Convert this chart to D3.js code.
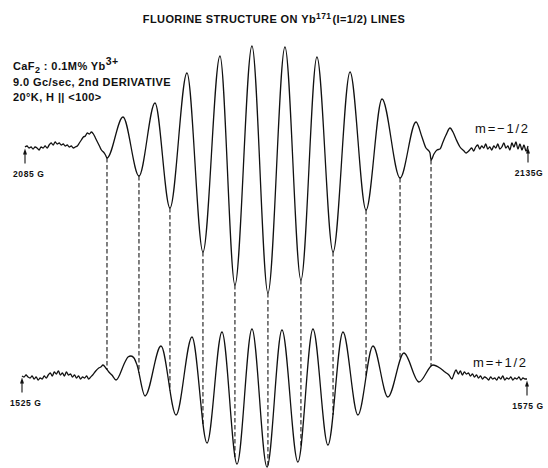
<!DOCTYPE html>
<html>
<head>
<meta charset="utf-8">
<script src="https://cdn.jsdelivr.net/npm/d3@7"></script>
<style>
  body { margin: 0; background: #fff; }
  svg { display: block; }
  text { font-family: "Liberation Sans", Arial, sans-serif; fill: #111; }
</style>
</head>
<body>
<svg id="chart" width="548" height="468"></svg>
<script>
// ---- Spectrum data: [magnetic field (G), 2nd-derivative signal (arb. units)] ----

// m = -1/2 hyperfine line, swept 2085 G -> 2135 G
const minusTrace = [
  [2085.0, 0], [2085.2, 1], [2085.4, -1], [2085.6, 0], [2085.8, -2], [2086.0, 0],
  [2086.2, -1], [2086.4, -3], [2086.6, 0], [2086.8, -1], [2087.0, 1], [2087.2, -1],
  [2087.4, 2], [2087.6, 4], [2087.8, 2], [2088.0, 5], [2088.2, 3], [2088.4, 4],
  [2088.6, 2], [2088.8, 3], [2089.0, 1], [2089.2, 2], [2089.4, 0], [2089.6, 1],
  [2089.8, -1], [2090.0, 0], [2090.2, 1],
  [2090.4, 4], [2090.6, 7], [2090.8, 10], [2091.0, 11], [2091.2, 14], [2091.4, 13],
  [2091.6, 15], [2091.8, 13], [2092.0, 9], [2092.2, 5], [2092.4, 1], [2092.6, -3],
  [2092.8, -5], [2093.0, -8], [2093.15, -11],
  [2094.74, 30], [2096.33, -29], [2097.92, 44], [2099.41, -61], [2101.10, 74],
  [2102.69, -105], [2104.38, 91], [2105.87, -138], [2107.56, 101], [2109.15, -146],
  [2110.84, 100], [2112.43, -133], [2114.02, 90], [2115.62, -105], [2117.31, 75],
  [2118.90, -63], [2120.49, 48], [2122.28, -31], [2123.87, 25],
  [2124.46, 10], [2124.86, -1], [2125.06, -3], [2125.26, -6], [2125.36, -13],
  [2125.65, -7], [2125.95, -3], [2126.25, -2], [2126.55, 5], [2126.85, 12],
  [2127.25, 19], [2127.54, 15], [2127.84, 8], [2128.24, 0], [2128.64, -4], [2128.84, -6],
  [2129.0, -5], [2129.2, -3], [2129.4, -1], [2129.6, -4], [2129.8, 0], [2130.0, 2],
  [2130.2, -2], [2130.4, 1], [2130.6, -1], [2130.8, 3], [2131.0, -2], [2131.2, 0],
  [2131.4, -3], [2131.6, 1], [2131.8, -1], [2132.0, 3], [2132.2, -2], [2132.4, 0],
  [2132.6, 4], [2132.8, -1], [2133.0, 1], [2133.2, -3], [2133.4, 4], [2133.6, 0],
  [2133.8, 5], [2134.0, -2], [2134.2, 3], [2134.4, -3], [2134.6, 2], [2134.8, -4],
  [2135.0, 1]
];

// m = +1/2 hyperfine line, swept 1525 G -> 1575 G
const plusTrace = [
  [1525.0, 1], [1525.2, 0], [1525.4, 2], [1525.6, 0], [1525.8, -1], [1526.0, 1],
  [1526.2, -2], [1526.4, 0], [1526.6, -3], [1526.8, -1], [1527.0, -2], [1527.2, 1],
  [1527.4, -1], [1527.6, 2], [1527.8, 4], [1528.0, 1], [1528.2, 5], [1528.4, 3],
  [1528.6, 6], [1528.8, 2], [1529.0, 4], [1529.2, 1], [1529.4, 5], [1529.6, 2],
  [1529.8, 3], [1530.0, 0], [1530.2, 2], [1530.4, -1], [1530.6, 1], [1530.8, -2],
  [1531.0, 0], [1531.2, -1], [1531.4, 1], [1531.6, -2], [1531.8, 0], [1532.0, 2],
  [1532.3, 6], [1532.6, 9], [1532.8, 10], [1533.02, 12], [1533.3, 9], [1533.6, 5],
  [1533.9, 2], [1534.31, -3],
  [1535.20, 15], [1535.49, 20], [1535.79, 21], [1536.09, 19], [1536.39, 12], [1537.18, -19],
  [1538.76, 31], [1540.25, -38], [1541.83, 40], [1543.32, -66], [1544.80, 45],
  [1546.29, -87], [1547.77, 48], [1549.26, -90], [1550.74, 47], [1552.32, -85],
  [1553.81, 48], [1555.29, -68], [1556.78, 45], [1558.26, -38], [1559.75, 31],
  [1561.23, -20], [1562.82, 24], [1564.30, -5], [1565.69, 12],
  [1566.38, 9], [1566.88, 5], [1567.27, 2], [1567.57, -2], [1567.77, 3], [1567.97, 7],
  [1568.2, 3], [1568.4, 6], [1568.6, 2], [1568.8, 5], [1569.0, 3], [1569.2, 4],
  [1569.4, 1], [1569.6, 3], [1569.8, 0], [1570.0, 2], [1570.2, -1], [1570.4, 1],
  [1570.6, -2], [1570.8, 0], [1571.0, -1], [1571.2, -3], [1571.4, 0], [1571.6, -2],
  [1571.8, -1], [1572.0, -3], [1572.2, 0], [1572.4, -2], [1572.6, 1], [1572.8, -3],
  [1573.0, -1], [1573.2, -2], [1573.4, 0], [1573.6, -3], [1573.8, -1], [1574.0, -2],
  [1574.2, 0], [1574.4, -3], [1574.6, -1], [1574.8, -2], [1575.0, -2]
];

// Fluorine superhyperfine minima of the m = -1/2 line, carried down to the m = +1/2 trace
const dropFields = [2093.15, 2096.33, 2099.41, 2102.69, 2105.87, 2109.15,
                    2112.43, 2115.62, 2118.90, 2122.28, 2125.36];

// Sweep end markers
const minusMarks = [2085, 2135];
const minusMarkLabels = ["2085 G", "2135G"];
const plusMarks = [1525, 1575];
const plusMarkLabels = ["1525 G", "1575 G"];

const traceLabels = ["m=\u22121/2", "m=+1/2"];

// ---- Scales ----
const svg = d3.select("#chart");
const xMinus = d3.scaleLinear().domain([2085, 2135]).range([25, 528]);
const xPlus  = d3.scaleLinear().domain([1525, 1575]).range([22, 527]);
const yMinus = d3.scaleLinear().domain([-150, 100]).range([297, 47]);
const yPlus  = d3.scaleLinear().domain([-100, 50]).range([477, 327]);

const ink = "#111";

// ---- Title ----
const title = svg.append("text")
  .attr("x", 274).attr("y", 23)
  .attr("text-anchor", "middle")
  .style("font-size", "11px").style("font-weight", "bold")
  .style("letter-spacing", "0.4px");
title.append("tspan").text("FLUORINE STRUCTURE ON Yb");
title.append("tspan").attr("dy", -4).style("font-size", "8.5px").text("171");
title.append("tspan").attr("dy", 4).attr("dx", 1).text("(I=1/2) LINES");

// ---- Sample conditions ----
const note = svg.append("g")
  .style("font-size", "11px").style("font-weight", "bold")
  .style("letter-spacing", "0.4px");
const l1 = note.append("text").attr("x", 13).attr("y", 70);
l1.append("tspan").text("CaF");
l1.append("tspan").attr("dy", 3).style("font-size", "9px").text("2");
l1.append("tspan").attr("dy", -3).text(" : 0.1M% Yb");
l1.append("tspan").attr("dy", -5).style("font-size", "10.5px").text("3+");
note.append("text").attr("x", 13).attr("y", 86).text("9.0 Gc/sec, 2nd DERIVATIVE");
note.append("text").attr("x", 13).attr("y", 101).text("20\u00b0K, H || <100>");

// ---- Traces ----
const lineMinus = d3.line().x(d => xMinus(d[0])).y(d => yMinus(d[1])).curve(d3.curveMonotoneX);
const linePlus  = d3.line().x(d => xPlus(d[0])).y(d => yPlus(d[1])).curve(d3.curveMonotoneX);

svg.append("path").datum(minusTrace)
  .attr("d", lineMinus)
  .attr("fill", "none").attr("stroke", ink).attr("stroke-width", 1.3)
  .attr("stroke-linejoin", "round");

const plusPath = svg.append("path").datum(plusTrace)
  .attr("d", linePlus)
  .attr("fill", "none").attr("stroke", ink).attr("stroke-width", 1.3)
  .attr("stroke-linejoin", "round");

// y of the m=+1/2 curve at a given screen x (the path runs left to right)
function yOnPath(node, xTarget) {
  let lo = 0, hi = node.getTotalLength();
  for (let i = 0; i < 40; i++) {
    const mid = (lo + hi) / 2;
    if (node.getPointAtLength(mid).x < xTarget) lo = mid; else hi = mid;
  }
  return node.getPointAtLength((lo + hi) / 2).y;
}

// ---- Dashed correspondence lines ----
const minusLookup = new Map(minusTrace.map(d => [d[0], d[1]]));
svg.append("g").selectAll("line")
  .data(dropFields)
  .join("line")
  .attr("x1", f => xMinus(f)).attr("x2", f => xMinus(f))
  .attr("y1", f => yMinus(minusLookup.get(f)))
  .attr("y2", f => yOnPath(plusPath.node(), xMinus(f)))
  .attr("stroke", "#000").attr("stroke-width", 1)
  .attr("stroke-dasharray", "4.5,2.5");

// ---- Sweep end markers (arrows + field values) ----
function drawMarks(fields, labels, xs, ys, trace) {
  const lookup = new Map(trace.map(d => [d[0], d[1]]));
  const g = svg.append("g");
  fields.forEach((f, i) => {
    const x = xs(f);
    const y0 = ys(lookup.get(f)) + 1.5;
    g.append("line").attr("x1", x).attr("x2", x)
      .attr("y1", y0 + 3).attr("y2", y0 + 15)
      .attr("stroke", ink).attr("stroke-width", 1.1);
    g.append("path")
      .attr("d", `M${x},${y0} L${x - 2},${y0 + 6} L${x + 2},${y0 + 6} Z`)
      .attr("fill", ink);
    g.append("text")
      .attr("x", i === 0 ? x - 12 : x + 1)
      .attr("y", y0 + 28)
      .attr("text-anchor", i === 0 ? "start" : "middle")
      .style("font-size", "8.5px").style("font-weight", "bold")
      .style("letter-spacing", "0.6px")
      .text(labels[i]);
  });
}
drawMarks(minusMarks, minusMarkLabels, xMinus, yMinus, minusTrace);
drawMarks(plusMarks, plusMarkLabels, xPlus, yPlus, plusTrace);

// ---- Trace labels ----
svg.append("text").attr("x", 475).attr("y", 133)
  .style("font-size", "13px").style("letter-spacing", "1.8px")
  .text(traceLabels[0]);
svg.append("text").attr("x", 473).attr("y", 367)
  .style("font-size", "13px").style("letter-spacing", "1.8px")
  .text(traceLabels[1]);
</script>
</body>
</html>
